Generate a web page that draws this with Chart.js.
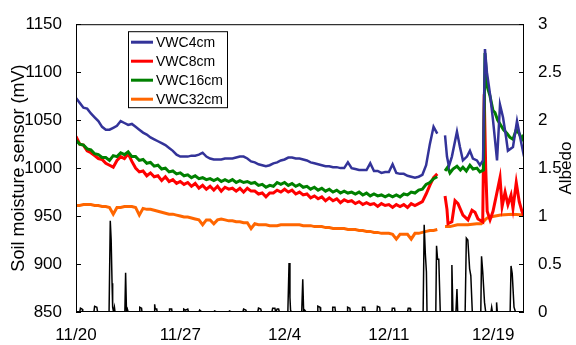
<!DOCTYPE html>
<html>
<head>
<meta charset="utf-8">
<script src="https://cdn.jsdelivr.net/npm/chart.js@4.4.0/dist/chart.umd.min.js"></script>
<style>
  html, body { margin: 0; padding: 0; background: #fff; }
</style>
</head>
<body>
<canvas id="soilChart" width="576" height="345"></canvas>
<script>
// x axis is in days counted from 11/20 0:00
const tickDays = [0, 7, 14, 21, 28];
const tickLabels = ['11/20', '11/27', '12/4', '12/11', '12/19'];
const seriesNames = ['VWC4cm', 'VWC8cm', 'VWC16cm', 'VWC32cm'];
const seriesColors = ['#333399', '#ff0000', '#008000', '#ff6600'];

// first part of the record, one value every 6 hours (mV)
const stepDays = 0.25;
const vwc4Early = [
  1073, 1068, 1063, 1062, 1057, 1053, 1049, 1043, 1040, 1040, 1042, 1044, 1049, 1047, 1045, 1046,
  1043, 1040, 1037, 1035, 1032, 1030, 1028, 1026, 1024, 1021, 1018, 1014, 1012, 1012, 1012, 1013,
  1013, 1014, 1016, 1012, 1010, 1009, 1009, 1009, 1010, 1010, 1010, 1011, 1012, 1012, 1010, 1007,
  1006, 1004, 1003, 1002, 1003, 1005, 1006, 1008, 1009, 1011, 1011, 1010, 1010, 1009, 1008, 1006,
  1005, 1004, 1003, 1002, 1002, 1001, 1001, 1000, 1000, 1006, 1000, 999, 998, 998, 998, 1005,
  997, 997, 995, 996, 996, 1004, 995, 994, 994, 992, 991, 990, 991, 993, 1003, 1025,
  1043, 1036
];
const vwc8Early = [
  1033, 1025, 1024, 1018, 1016, 1013, 1010, 1009, 1005, 1003, 1001, 1008, 1012, 1010, 1015, 1007,
  1000, 996, 997, 992, 995, 991, 992, 987, 991, 986, 988, 984, 986, 983, 985, 981,
  984, 979, 982, 978, 981, 977, 981, 976, 980, 978, 979, 976, 979, 975, 979, 976,
  976, 973, 974, 970, 974, 974, 977, 975, 978, 975, 977, 973, 975, 972, 973, 969,
  971, 968, 970, 966, 969, 966, 968, 964, 967, 965, 966, 963, 965, 962, 964, 962,
  963, 960, 963, 961, 962, 959, 962, 960, 962, 959, 963, 961, 963, 965, 973, 982,
  990, 994
];
const vwc16Early = [
  1029, 1025, 1024, 1020, 1019, 1015, 1014, 1011, 1011, 1008, 1013, 1012, 1016, 1014, 1017, 1012,
  1012, 1008, 1009, 1005, 1006, 1002, 1003, 999, 1000, 996, 997, 994, 995, 992, 993, 990,
  992, 989, 990, 988, 989, 987, 989, 986, 988, 986, 988, 985, 987, 985, 986, 984,
  985, 982, 983, 980, 982, 981, 985, 983, 985, 982, 984, 981, 983, 980, 981, 978,
  980, 977, 979, 976, 978, 975, 977, 974, 976, 974, 975, 973, 975, 972, 974, 971,
  973, 971, 972, 970, 972, 970, 972, 970, 973, 972, 975, 974, 977, 978, 983, 985,
  989, 991
];
const vwc32Early = [
  961, 961, 962, 962, 962, 961, 961, 960, 960, 959, 952, 959, 959, 960, 960, 960,
  959, 951, 958, 957, 957, 956, 955, 954, 953, 952, 952, 951, 950, 949, 949, 948,
  947, 946, 941, 946, 946, 942, 946, 947, 946, 945, 945, 944, 944, 943, 943, 937,
  942, 941, 941, 941, 940, 940, 940, 941, 941, 941, 941, 941, 941, 940, 940, 940,
  939, 939, 939, 938, 938, 937, 937, 937, 937, 936, 936, 936, 935, 935, 934, 934,
  933, 933, 932, 932, 932, 931, 926, 931, 931, 931, 926, 932, 932, 933, 934, 935,
  935, 936
];

// logger dropout before the last week
const gapDay = 24.55;

// last part of the record, [day, mV]
const vwc4Late = [
  [24.77, 1034], [24.9, 1012], [25.03, 1002], [25.23, 1012], [25.57, 1038], [25.77, 1022],
  [25.97, 1008], [26.24, 1012], [26.44, 1018], [26.64, 1010], [26.91, 1008], [27.11, 1003],
  [27.32, 1008], [27.45, 1124], [27.58, 1100], [27.79, 1077], [27.99, 1050], [28.12, 1030],
  [28.26, 1008], [28.46, 1066], [28.66, 1053], [28.86, 1033], [28.99, 1018], [29.33, 1022],
  [29.6, 1049], [29.8, 1033], [30.07, 1012]
];
const vwc8Late = [
  [24.77, 971], [24.9, 957], [24.97, 942], [25.23, 944], [25.44, 966], [25.64, 963],
  [25.97, 951], [26.31, 946], [26.58, 956], [26.78, 954], [26.98, 947], [27.3, 944],
  [27.4, 1077], [27.5, 1000], [27.6, 955], [27.79, 946], [27.99, 955], [28.26, 975],
  [28.46, 990], [28.6, 960], [28.8, 975], [28.99, 962], [29.2, 972], [29.33, 958],
  [29.55, 985], [29.75, 965], [29.93, 955], [30.07, 950]
];
const vwc16Late = [
  [24.77, 997], [24.95, 1001], [25.1, 995], [25.3, 999], [25.57, 1002], [25.8, 998],
  [25.97, 1001], [26.2, 997], [26.44, 1003], [26.65, 999], [26.91, 1000], [27.11, 996],
  [27.35, 998], [27.45, 1120], [27.6, 1085], [27.79, 1075], [27.99, 1060], [28.12, 1058],
  [28.3, 1050], [28.46, 1046], [28.7, 1040], [28.93, 1036], [29.13, 1032], [29.33, 1030],
  [29.55, 1040], [29.75, 1036], [29.93, 1030], [30.07, 1035]
];
const vwc32Late = [
  [24.77, 939], [25.1, 939], [25.6, 941], [26.3, 941], [26.9, 942], [27.2, 942],
  [27.45, 946], [27.6, 948], [27.8, 949], [28.5, 951], [29.3, 952], [30.07, 951]
];

// albedo, [day, value]
const albedo = [
  [0, 0], [0.25, 0], [0.3, 0.04], [0.42, 0.03], [0.45, 0],
  [1.2, 0], [1.25, 0.06], [1.4, 0.05], [1.45, 0],
  [2.22, 0], [2.3, 0.95], [2.36, 0.75], [2.42, 0.3], [2.46, 0.05], [2.52, 0], [2.58, 0.05], [2.62, 0],
  [3.28, 0], [3.33, 0.41], [3.39, 0], [3.45, 0.03], [3.5, 0],
  [4.25, 0], [4.28, 0.05], [4.4, 0.04], [4.43, 0],
  [5.25, 0], [5.28, 0.08], [5.32, 0.03], [5.42, 0.03], [5.45, 0],
  [6.25, 0], [6.28, 0.03], [6.42, 0.03], [6.45, 0],
  [7.2, 0], [7.23, 0.03], [7.35, 0.02], [7.5, 0.03], [7.55, 0],
  [8.25, 0], [8.3, 0.02], [8.45, 0],
  [9.25, 0], [9.3, 0.01], [9.45, 0],
  [10.25, 0], [10.3, 0.01], [10.45, 0],
  [11.2, 0], [11.25, 0.03], [11.4, 0.02], [11.45, 0],
  [12.2, 0], [12.25, 0.04], [12.4, 0.03], [12.45, 0],
  [13.15, 0], [13.2, 0.04], [13.35, 0.04], [13.4, 0], [13.5, 0.03], [13.6, 0.03], [13.65, 0],
  [14.22, 0], [14.3, 0.51], [14.36, 0.15], [14.4, 0.02], [14.45, 0],
  [15.15, 0], [15.22, 0.34], [15.28, 0], [15.35, 0.02], [15.45, 0],
  [16.2, 0], [16.23, 0.06], [16.38, 0.05], [16.42, 0],
  [17.2, 0], [17.23, 0.05], [17.38, 0.05], [17.42, 0],
  [18.2, 0], [18.23, 0.05], [18.38, 0.04], [18.42, 0],
  [19.2, 0], [19.23, 0.05], [19.38, 0.05], [19.42, 0],
  [20.2, 0], [20.23, 0.06], [20.38, 0.05], [20.42, 0],
  [21.2, 0], [21.23, 0.04], [21.38, 0.04], [21.42, 0],
  [22.25, 0], [22.3, 0.04], [22.42, 0.04], [22.46, 0],
  [23.3, 0], [23.37, 0.91], [23.45, 0.6], [23.52, 0.42], [23.56, 0],
  [24.15, 0], [24.2, 0.69], [24.27, 0.55], [24.35, 0.55], [24.45, 0],
  [25.18, 0], [25.23, 0.49], [25.3, 0], [25.5, 0], [25.57, 0.24], [25.62, 0],
  [26.12, 0], [26.2, 0.77], [26.3, 0.75], [26.42, 0.45], [26.5, 0.38], [26.6, 0],
  [27.17, 0], [27.22, 0.58], [27.3, 0.42], [27.42, 0.1], [27.5, 0],
  [27.85, 0], [27.9, 0.05], [27.95, 0], [28.2, 0], [28.23, 0.1], [28.28, 0],
  [29.14, 0], [29.2, 0.48], [29.28, 0.4], [29.4, 0.05], [29.5, 0],
  [30.07, 0]
];

function series(early, late) {
  const pts = early.map((v, i) => ({ x: i * stepDays, y: v }));
  pts.push({ x: gapDay, y: null });
  late.forEach(p => pts.push({ x: p[0], y: p[1] }));
  return pts;
}

Chart.defaults.font.family = '"Liberation Sans", Arial, sans-serif';
Chart.defaults.color = '#000';

// frame, inward tick marks, boxed legend and right axis title
const decor = {
  id: 'decor',
  afterDraw(chart) {
    const { ctx, chartArea: a } = chart;
    ctx.save();
    ctx.strokeStyle = '#000';
    ctx.lineWidth = 1;
    ctx.strokeRect(a.left + 0.5, a.top + 0.5, a.right - a.left - 1, a.bottom - a.top - 1);

    ctx.beginPath();
    const yl = chart.scales.y, yr = chart.scales.y1;
    yl.ticks.forEach(t => {
      const py = Math.round(yl.getPixelForValue(t.value)) + 0.5;
      ctx.moveTo(a.left, py); ctx.lineTo(a.left + 5, py);
    });
    yr.ticks.forEach(t => {
      const py = Math.round(yr.getPixelForValue(t.value)) + 0.5;
      ctx.moveTo(a.right - 5, py); ctx.lineTo(a.right, py);
    });
    ctx.stroke();

    // legend
    const lx = a.left + 52, ly = a.top + 7;
    ctx.fillStyle = '#fff';
    ctx.fillRect(lx, ly, 99, 76);
    ctx.strokeRect(lx + 0.5, ly + 0.5, 99, 76);
    ctx.font = '14px "Liberation Sans", Arial, sans-serif';
    ctx.textBaseline = 'middle';
    ctx.textAlign = 'left';
    seriesNames.forEach((name, i) => {
      const cy = ly + 11 + i * 19;
      ctx.strokeStyle = seriesColors[i];
      ctx.lineWidth = 3;
      ctx.beginPath();
      ctx.moveTo(lx + 3, cy); ctx.lineTo(lx + 25, cy);
      ctx.stroke();
      ctx.fillStyle = '#000';
      ctx.fillText(name, lx + 28, cy + 1);
    });

    ctx.translate(566, (a.top + a.bottom) / 2);
    ctx.rotate(-Math.PI / 2);
    ctx.textAlign = 'center';
    ctx.font = '17px "Liberation Sans", Arial, sans-serif';
    ctx.fillText('Albedo', 0, 0);
    ctx.restore();
  }
};

const soilCtx = document.getElementById('soilChart').getContext('2d');
const soilChart = new Chart(soilCtx, {
  type: 'line',
  data: {
    datasets: [
      { label: seriesNames[0], data: series(vwc4Early, vwc4Late), borderColor: seriesColors[0], borderWidth: 2.5, order: 1, yAxisID: 'y' },
      { label: seriesNames[1], data: series(vwc8Early, vwc8Late), borderColor: seriesColors[1], borderWidth: 3, order: 3, yAxisID: 'y' },
      { label: seriesNames[2], data: series(vwc16Early, vwc16Late), borderColor: seriesColors[2], borderWidth: 3, order: 2, yAxisID: 'y' },
      { label: seriesNames[3], data: series(vwc32Early, vwc32Late), borderColor: seriesColors[3], borderWidth: 3, order: 4, yAxisID: 'y' },
      { label: 'Albedo', data: albedo.map(p => ({ x: p[0], y: p[1] })), borderColor: '#000', borderWidth: 1.5, order: 0, yAxisID: 'y1' }
    ]
  },
  options: {
    responsive: false,
    animation: false,
    spanGaps: false,
    elements: { point: { radius: 0 }, line: { tension: 0 } },
    layout: { padding: { top: 18, left: 0, right: 0, bottom: 0 } },
    scales: {
      x: {
        type: 'linear',
        min: 0,
        max: 30.07,
        grid: { display: false, drawTicks: false },
        border: { display: false },
        afterBuildTicks: s => { s.ticks = tickDays.map(v => ({ value: v })); },
        afterFit: s => { s.height = 33; },
        ticks: {
          padding: 13,
          maxRotation: 0,
          autoSkip: false,
          font: { size: 17 },
          callback: v => tickLabels[tickDays.indexOf(v)]
        }
      },
      y: {
        position: 'left',
        min: 850,
        max: 1150,
        grid: { display: false, drawTicks: false },
        border: { display: false },
        afterFit: s => { s.width = 76; },
        ticks: { stepSize: 50, padding: 14, font: { size: 17 }, callback: v => String(v) },
        title: {
          display: true,
          text: 'Soil moisture sensor (mV)',
          font: { size: 18 },
          padding: { top: 8, bottom: 0 }
        }
      },
      y1: {
        position: 'right',
        min: 0,
        max: 3,
        grid: { display: false, drawTicks: false },
        border: { display: false },
        afterFit: s => { s.width = 52; },
        ticks: { stepSize: 0.5, padding: 14, font: { size: 17 }, callback: v => String(v) }
      }
    },
    plugins: {
      legend: { display: false },
      tooltip: { enabled: false }
    }
  },
  plugins: [decor]
});
</script>
</body>
</html>
